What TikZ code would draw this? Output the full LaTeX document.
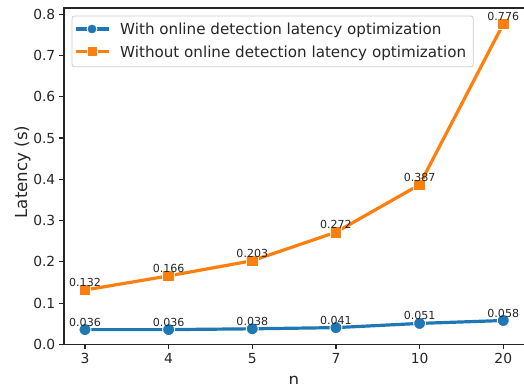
\documentclass[tikz,border=0pt]{standalone}
\usepackage{fontspec}
\setmainfont{DejaVu Sans}
\definecolor{mblue}{HTML}{1F77B4}
\definecolor{morange}{HTML}{FF7F0E}
\definecolor{txt}{HTML}{262626}
\begin{document}
\begin{tikzpicture}[x=1bp,y=-1bp,
  ticklab/.style={inner sep=0pt,text=txt,font=\fontsize{13.9}{16}\selectfont},
  axlab/.style={inner sep=0pt,text=txt,font=\fontsize{16.7}{19}\selectfont},
  annot/.style={inner sep=0pt,anchor=base,text=txt,font=\fontsize{11.1}{13}\selectfont},
  legtext/.style={inner sep=0pt,anchor=base west,text=txt,font=\fontsize{15.2}{18}\selectfont},
  bluel/.style={draw=mblue,line width=3.2bp,line join=round,line cap=round},
  orangel/.style={draw=morange,line width=3.2bp,line join=round,line cap=round},
  bluem/.style={circle,fill=mblue,draw=white,line width=0.9bp,minimum size=12bp,inner sep=0pt},
  orangem/.style={rectangle,fill=morange,draw=white,line width=0.9bp,minimum size=11.5bp,inner sep=0pt},
  spine/.style={draw=black!85,line width=1.1bp},
  tickmark/.style={draw=black!85,line width=1.1bp}
]
\useasboundingbox (0,0) rectangle (524,383);
% axes frame
\draw[spine] (64,8) rectangle (524.6,344.5);
% y ticks
\foreach \v/\lab in {0/0.0,1/0.1,2/0.2,3/0.3,4/0.4,5/0.5,6/0.6,7/0.7,8/0.8}{
  \pgfmathsetmacro{\yy}{344.5-41.3*\v}
  \draw[tickmark] (59.2,\yy) -- (64,\yy);
  \node[ticklab,anchor=east] (yt\v) at (55.5,\yy) {\lab};
}
% x ticks
\foreach \i/\lab in {0/3,1/4,2/5,3/7,4/10,5/20}{
  \pgfmathsetmacro{\xx}{85+83.65*\i}
  \draw[tickmark] (\xx,344.5) -- (\xx,349.3);
  \node[ticklab,anchor=base] (xt\i) at (\xx,363) {\lab};
}
% axis labels
\node[axlab,anchor=base,rotate=90] (ylab) at (27,172) {Latency (s)};
\node[axlab,anchor=base] (xlab) at (294,385) {n};
% data coordinates
\coordinate (b0) at (85,329.6);
\coordinate (b1) at (168.65,329.6);
\coordinate (b2) at (252.3,328.8);
\coordinate (b3) at (335.95,327.6);
\coordinate (b4) at (419.6,323.4);
\coordinate (b5) at (503.25,320.5);
\coordinate (o0) at (85,290.0);
\coordinate (o1) at (168.65,275.9);
\coordinate (o2) at (252.3,260.7);
\coordinate (o3) at (335.95,232.2);
\coordinate (o4) at (419.6,184.7);
\coordinate (o5) at (503.25,24.0);
% lines
\draw[bluel] (b0) -- (b1) -- (b2) -- (b3) -- (b4) -- (b5);
\draw[orangel] (o0) -- (o1) -- (o2) -- (o3) -- (o4) -- (o5);
% markers
\foreach \i in {0,...,5}{
  \node[bluem] (bm\i) at (b\i) {};
  \node[orangem] (om\i) at (o\i) {};
}
% annotations
\foreach \i/\lab in {0/0.036,1/0.036,2/0.038,3/0.041,4/0.051,5/0.058}{
  \node[annot] (ba\i) at ([yshift=3.5bp]b\i) {\lab};
}
\foreach \i/\lab in {0/0.132,1/0.166,2/0.203,3/0.272,4/0.387,5/0.776}{
  \node[annot] (oa\i) at ([yshift=3.5bp]o\i) {\lab};
}
% legend
\draw[draw=black!20,fill=white,fill opacity=0.8,line width=0.8bp,rounded corners=2.5bp] (72,16) rectangle (473.3,66.7);
\coordinate (l1a) at (75.5,29);
\coordinate (l1b) at (108.5,29);
\coordinate (l2a) at (75.5,51.5);
\coordinate (l2b) at (108.5,51.5);
\draw[draw=mblue,line width=3.2bp] (l1a) -- (l1b);
\draw[draw=morange,line width=3.2bp] (l2a) -- (l2b);
\node[bluem,minimum size=10bp] (lm1) at (92,29) {};
\node[orangem,minimum size=10bp] (lm2) at (92,51.5) {};
\node[legtext] (lt1) at (120,34.5) {With online detection latency optimization};
\node[legtext] (lt2) at (120,57) {Without online detection latency optimization};
\end{tikzpicture}
\end{document}
